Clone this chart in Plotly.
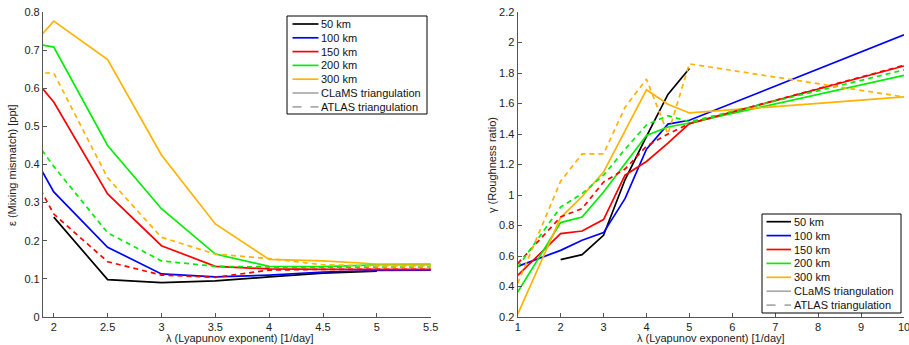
import plotly.graph_objects as go

# ---------------- data ----------------
lam = [1, 2, 2.5, 3, 3.5, 4, 4.5, 5, 10]

# Left panel: epsilon (mixing mismatch) [ppt], CLaMS triangulation (solid)
eps_50 = [None, 0.262, 0.098, 0.090, 0.095, 0.105, 0.115, 0.120, None]
eps_100 = [0.83, 0.328, 0.183, 0.113, 0.105, 0.110, 0.118, 0.122, 0.130]
eps_150 = [0.90, 0.564, 0.323, 0.187, 0.133, 0.126, 0.125, 0.124, 0.124]
eps_200 = [0.76, 0.708, 0.450, 0.284, 0.165, 0.133, 0.132, 0.137, 0.138]
eps_300 = [0.46, 0.776, 0.675, 0.425, 0.244, 0.151, 0.147, 0.139, 0.140]
# ATLAS triangulation (dashed)
eps_150_atlas = [0.79, 0.270, 0.145, 0.110, 0.104, 0.123, 0.125, 0.125, 0.125]
eps_200_atlas = [0.78, 0.395, 0.221, 0.147, 0.133, 0.131, 0.131, 0.131, 0.132]
eps_300_atlas = [0.64, 0.640, 0.365, 0.209, 0.165, 0.153, 0.137, 0.134, 0.134]

# Right panel: gamma (roughness ratio), CLaMS triangulation (solid)
gam_50 = [None, 0.576, 0.609, 0.736, 1.100, 1.385, 1.660, 1.830, None]
gam_100 = [0.532, 0.637, 0.703, 0.753, 0.976, 1.300, 1.465, 1.490, 2.050]
gam_150 = [0.473, 0.747, 0.764, 0.839, 1.130, 1.220, 1.340, 1.468, 1.846]
gam_200 = [0.364, 0.819, 0.856, 1.020, 1.205, 1.390, 1.446, 1.472, 1.785]
gam_300 = [0.218, 0.852, 0.990, 1.150, 1.420, 1.690, 1.595, 1.538, 1.643]
# ATLAS triangulation (dashed)
gam_150_atlas = [0.550, 0.856, 0.911, 1.085, 1.170, 1.320, 1.400, 1.468, 1.850]
gam_200_atlas = [0.528, 0.921, 1.009, 1.130, 1.300, 1.460, 1.520, 1.480, 1.820]
gam_300_atlas = [0.420, 1.090, 1.270, 1.270, 1.575, 1.760, 1.400, 1.860, 1.643]

names = ["50 km", "100 km", "150 km", "200 km", "300 km"]
colors = ["#000000", "#0000FF", "#FF0000", "#00EE00", "#FFB300"]
legend_extra = ["CLaMS triangulation", "ATLAS triangulation"]
gray = "#AAAAAA"

FONT = "Liberation Sans, Arial, sans-serif"
FS = 11
DASH = "5px,4px"
LW = 1.7

# figure geometry (pixels)
W, H = 909, 345
ML, MR, MT, MB = 43, 5, 12, 28
PW, PH = W - ML - MR, H - MT - MB

def px(xp):
    return (xp - ML) / PW

def py(yp):
    return (H - MB - yp) / PH

fig = go.Figure()

def add(x, y, color, dash, xa, ya):
    fig.add_trace(go.Scatter(x=x, y=y, mode="lines", xaxis=xa, yaxis=ya,
                             line=dict(color=color, width=LW, dash=dash),
                             showlegend=False, hoverinfo="skip"))

# left panel
for ys, c in zip([eps_50, eps_100, eps_150, eps_200, eps_300], colors):
    add(lam, ys, c, "solid", "x", "y")
for ys, c in zip([eps_150_atlas, eps_200_atlas, eps_300_atlas], colors[2:]):
    add(lam, ys, c, DASH, "x", "y")
# right panel
for ys, c in zip([gam_50, gam_100, gam_150, gam_200, gam_300], colors):
    add(lam, ys, c, "solid", "x2", "y2")
for ys, c in zip([gam_150_atlas, gam_200_atlas, gam_300_atlas], colors[2:]):
    add(lam, ys, c, DASH, "x2", "y2")

# ---- compact legends (MATLAB style) drawn as shapes + text ----
shapes, annotations = [], []

def legend_box(x0, y0, x1, y1, first_row, row_step, s0, s1, t0):
    shapes.append(dict(type="rect", xref="paper", yref="paper",
                       x0=px(x0), x1=px(x1), y0=py(y1), y1=py(y0),
                       line=dict(color="black", width=1), fillcolor="white",
                       layer="above"))
    entries = [(n, c, "solid") for n, c in zip(names, colors)]
    entries += [(legend_extra[0], gray, "solid"), (legend_extra[1], gray, "dash")]
    for i, (n, c, d) in enumerate(entries):
        yc = first_row + i * row_step
        shapes.append(dict(type="line", xref="paper", yref="paper",
                           x0=px(s0), x1=px(s1), y0=py(yc), y1=py(yc),
                           line=dict(color=c, width=LW, dash=d), layer="above"))
        annotations.append(dict(text=n, xref="paper", yref="paper",
                                x=px(t0), y=py(yc), xanchor="left", yanchor="middle",
                                showarrow=False,
                                font=dict(family=FONT, size=FS, color="#111111")))

legend_box(287, 16, 427, 114, 24, 13.8, 292.5, 318.5, 319)
legend_box(762, 214, 901, 313, 221.7, 13.9, 766.5, 791, 792)

axis_common = dict(showline=True, linecolor="#555555", linewidth=1.2,
                   ticks="inside", ticklen=4, tickcolor="#555555", tickwidth=1,
                   showgrid=False, zeroline=False, mirror=False, automargin=False,
                   ticklabeloverflow="allow",
                   tickfont=dict(family=FONT, size=FS, color="#222222"))

title_font = dict(family=FONT, size=FS, color="#222222")
annotations += [
    dict(text="ε (Mixing mismatch) [ppt]", xref="paper", yref="paper",
         x=px(12), y=py(165), xanchor="center", yanchor="middle",
         textangle=-90, showarrow=False, font=title_font),
    dict(text="λ (Lyapunov exponent) [1/day]", xref="paper", yref="paper",
         x=px(240), y=py(337.5), xanchor="center", yanchor="middle",
         showarrow=False, font=title_font),
    dict(text="γ (Roughness ratio)", xref="paper", yref="paper",
         x=px(492), y=py(165), xanchor="center", yanchor="middle",
         textangle=-90, showarrow=False, font=title_font),
    dict(text="λ (Lyapunov exponent) [1/day]", xref="paper", yref="paper",
         x=px(711), y=py(337.5), xanchor="center", yanchor="middle",
         showarrow=False, font=title_font),
]

fig.update_layout(
    width=W, height=H,
    margin=dict(l=ML, r=MR, t=MT, b=MB, autoexpand=False),
    plot_bgcolor="white", paper_bgcolor="white",
    showlegend=False,
    font=dict(family=FONT, size=FS, color="#222222"),
    xaxis=dict(domain=[0, px(430.7)], range=[1.9, 5.5], tick0=2, dtick=0.5, **axis_common),
    yaxis=dict(domain=[0, 1], range=[0, 0.8], tick0=0, dtick=0.1, **axis_common),
    xaxis2=dict(domain=[px(517.7), 1], range=[1, 10], tick0=1, dtick=1, anchor="y2", **axis_common),
    yaxis2=dict(domain=[0, 1], range=[0.2, 2.2], tick0=0.2, dtick=0.2, anchor="x2", **axis_common),
    shapes=shapes,
    annotations=annotations,
)

fig.write_html("out.html")
